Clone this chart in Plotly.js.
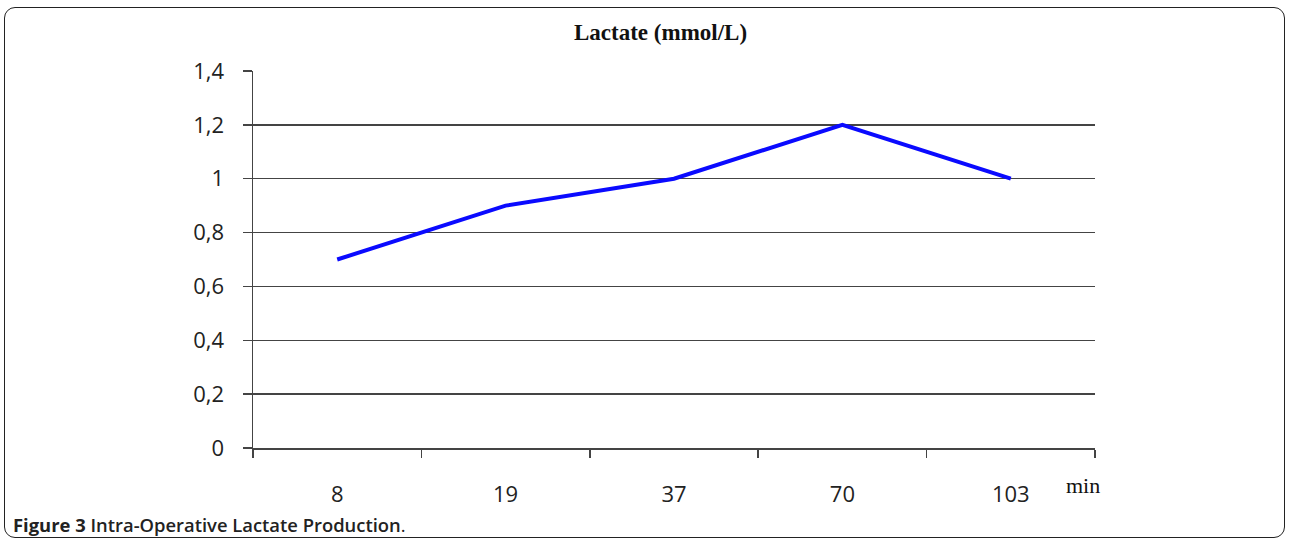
<!DOCTYPE html>
<html><head><meta charset="utf-8">
<script src="https://cdn.plot.ly/plotly-3.0.1.min.js"></script>
<style>
html,body{margin:0;padding:0;background:#fff;}
#wrap{position:relative;width:1290px;height:544px;}
#chart{width:1290px;height:544px;}
#frame{position:absolute;left:4px;top:7px;width:1281px;height:531px;border:1.5px solid #222;border-radius:11px;pointer-events:none;box-sizing:border-box;}
</style></head>
<body>
<div id="wrap"><div id="chart"></div><div id="frame"></div></div>
<script>
const minutes = ['8', '19', '37', '70', '103'];
const lactate = [0.7, 0.9, 1.0, 1.2, 1.0];
const yTicks = [0, 0.2, 0.4, 0.6, 0.8, 1.0, 1.2, 1.4];

const trace = {
  x: minutes, y: lactate, type: 'scatter', mode: 'lines',
  line: {color: '#0a0aff', width: 4}, hoverinfo: 'skip'
};
const sans = '"Open Sans", "Noto Sans", sans-serif';
const layout = {
  width: 1290, height: 544,
  margin: {l: 253, r: 195, t: 71, b: 96},
  paper_bgcolor: '#fff', plot_bgcolor: '#fff',
  separators: ',.',
  showlegend: false,
  xaxis: {
    type: 'category', range: [-0.5, 4.5], tickson: 'boundaries',
    ticks: 'outside', ticklen: 8, tickwidth: 1.5, tickcolor: '#444',
    showline: true, linecolor: '#444', linewidth: 1.5,
    showgrid: false, zeroline: false,
    ticklabelstandoff: 26,
    tickfont: {family: sans, size: 22, color: '#222'}
  },
  yaxis: {
    range: [0, 1.4], tickvals: yTicks,
    ticks: 'outside', ticklen: 9, tickwidth: 1.5, tickcolor: '#444',
    showline: true, linecolor: '#444', linewidth: 1.5,
    showgrid: true, gridcolor: '#444', gridwidth: 1.5, zeroline: false,
    ticklabelstandoff: 14,
    tickfont: {family: sans, size: 22, color: '#222'}
  },
  annotations: [
    {text: '<b>Lactate (mmol/L)</b>', xref: 'paper', yref: 'paper', x: 0.5, y: 1, xshift: -14, yshift: 39,
     xanchor: 'center', yanchor: 'middle', showarrow: false,
     font: {family: '"Liberation Serif", "DejaVu Serif", serif', size: 23, color: '#111'}},
    {text: 'min', xref: 'paper', yref: 'paper', x: 1, y: 0, xshift: -31, yshift: -37,
     xanchor: 'left', yanchor: 'middle', showarrow: false,
     font: {family: '"Liberation Serif", "DejaVu Serif", serif', size: 22, color: '#111'}},
    {text: '<b>Figure 3</b> <span style="font-weight:600">Intra-Operative Lactate Production</span>.',
     xref: 'paper', yref: 'paper', x: 0, y: 0, xshift: -242, yshift: -76,
     xanchor: 'left', yanchor: 'middle', showarrow: false,
     font: {family: sans, size: 18.4, color: '#222'}}
  ]
};
Plotly.newPlot('chart', [trace], layout, {displayModeBar: false, staticPlot: true});
</script>
</body></html>
